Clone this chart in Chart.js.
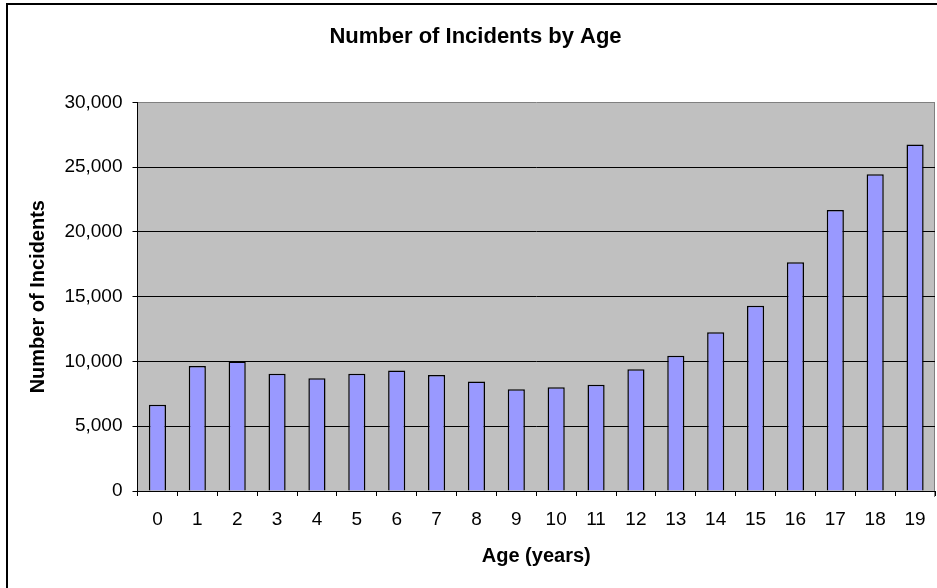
<!DOCTYPE html>
<html>
<head>
<meta charset="utf-8">
<title>Number of Incidents by Age</title>
<script src="https://cdn.jsdelivr.net/npm/chart.js@4.4.1/dist/chart.umd.min.js"></script>
<style>
  html, body { margin: 0; padding: 0; background: #fff; overflow: hidden; }
  #wrap { width: 937px; height: 588px; }
</style>
</head>
<body>
<div id="wrap"><canvas id="chart" width="937" height="588"></canvas></div>
<script>
// chart data
const ages = ['0', '1', '2', '3', '4', '5', '6', '7', '8', '9',
              '10', '11', '12', '13', '14', '15', '16', '17', '18', '19'];
const incidents = [6650, 9650, 10000, 9050, 8700, 9050, 9300, 8950, 8450, 7850,
                   8000, 8200, 9400, 10450, 12250, 14300, 17650, 21700, 24450, 26750];
const yMin = 0;
const yMax = 30000;
const yStep = 5000;

const FONT = "'Liberation Sans', Arial, sans-serif";

// grey plot background, outer frame of the chart object
const frame = {
  id: 'frame',
  beforeDraw(chart) {
    const { ctx, chartArea: a } = chart;
    ctx.save();
    ctx.strokeStyle = '#000';
    ctx.lineWidth = 2;
    ctx.strokeRect(7, 4, 960, 620);
    ctx.fillStyle = '#C0C0C0';
    ctx.fillRect(a.left, a.top, a.right - a.left, a.bottom - a.top);
    ctx.strokeStyle = '#808080';
    ctx.lineWidth = 1;
    ctx.beginPath();
    ctx.moveTo(Math.round(a.right) - 0.5, a.top);
    ctx.lineTo(Math.round(a.right) - 0.5, a.bottom + 6);
    ctx.stroke();
    ctx.restore();
  }
};

new Chart(document.getElementById('chart'), {
  type: 'bar',
  data: {
    labels: ages,
    datasets: [{
      data: incidents,
      backgroundColor: '#9999FF',
      borderColor: '#000',
      borderWidth: 1.5,
      categoryPercentage: 1,
      barPercentage: 0.43
    }]
  },
  options: {
    responsive: false,
    animation: false,
    layout: { padding: { left: 16, right: 2, top: 0, bottom: 0 } },
    plugins: {
      legend: { display: false },
      tooltip: { enabled: false },
      title: {
        display: true,
        text: 'Number of Incidents by Age',
        color: '#000',
        font: { family: FONT, size: 22, weight: 'bold' },
        padding: { top: 24, bottom: 52 }
      }
    },
    scales: {
      x: {
        grid: { drawOnChartArea: false, drawTicks: true, tickLength: 5, tickColor: '#000' },
        border: { color: '#000', width: 1 },
        ticks: { color: '#000', padding: 12, maxRotation: 0, font: { family: FONT, size: 19 } },
        title: {
          display: true,
          text: 'Age (years)',
          color: '#000',
          font: { family: FONT, size: 20, weight: 'bold' },
          padding: { top: 0, bottom: 20 }
        },
        afterFit(scale) {
          scale.height = 97;
          scale.paddingLeft = 0;
          scale.paddingRight = 0;
        }
      },
      y: {
        min: yMin,
        max: yMax,
        grid: {
          color: (c) => (c.tick && c.tick.value === yMax ? '#808080' : '#000'),
          tickColor: '#000',
          tickLength: 5,
          lineWidth: 1
        },
        border: { color: '#000', width: 1 },
        ticks: { stepSize: yStep, color: '#000', padding: 10, font: { family: FONT, size: 19 } },
        title: {
          display: true,
          text: 'Number of Incidents',
          color: '#000',
          font: { family: FONT, size: 20, weight: 'bold' },
          padding: { top: 10, bottom: 0 }
        },
        afterFit(scale) {
          scale.width = 121.5;
        }
      }
    }
  },
  plugins: [frame]
});
</script>
</body>
</html>
